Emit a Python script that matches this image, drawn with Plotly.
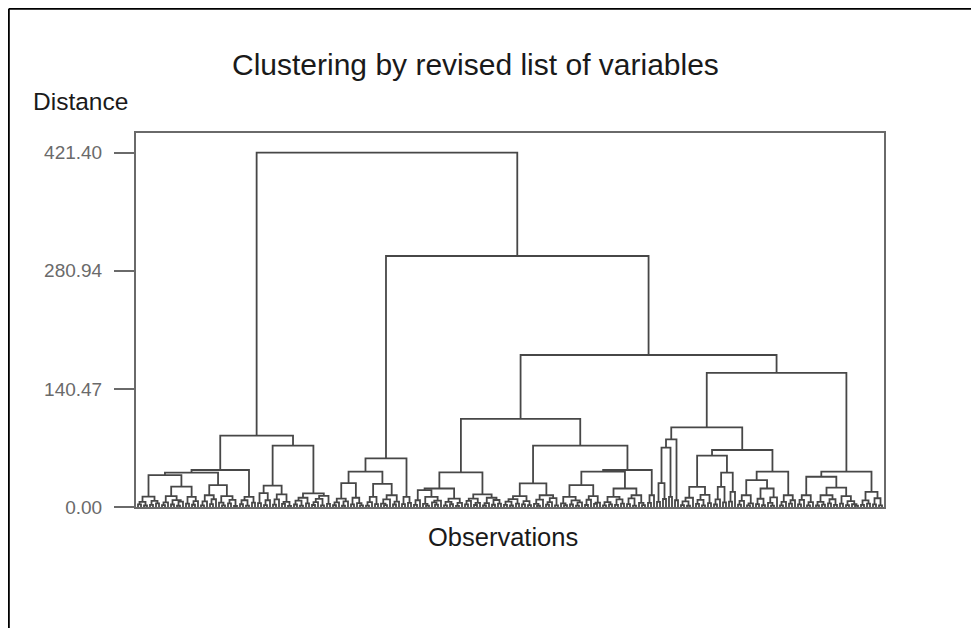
import plotly.graph_objects as go

# ---------------- text ----------------
title_text = "Clustering by revised list of variables"
y_label = "Distance"
x_label = "Observations"
tick_values = [0.0, 140.47, 280.94, 421.40]
tick_labels = ["0.00", "140.47", "280.94", "421.40"]

# ---------------- data: merge heights between adjacent observations ----------------
# (each value = distance at which observation i and i+1 first fall in the same cluster)
gaps_A1 = [3.1, 6.0, 1.8, 12.3, 2.5, 7.4, 4.2, 38.0,
           2.2, 5.5, 13.0, 3.0, 8.1, 1.5, 6.3, 24.2,
           4.0, 12.0, 2.7, 7.0, 40.8,
           1.9, 6.8, 14.0, 3.5, 9.2, 26.0,
           5.1, 2.0, 13.0, 4.4, 8.5, 1.2, 44.0,
           3.3, 8.0, 1.6, 12.0, 5.2]
join_A = 84.8
gaps_A2 = [4.5, 16.6, 2.3, 8.0, 25.4,
           2.8, 9.1, 15.0, 3.6, 6.2, 1.4, 73.0,
           3.0, 7.5, 1.7, 11.0, 4.3, 16.2, 2.4, 5.8, 9.6, 1.9, 13.2, 3.7]
join_root = 421.40
gaps_B1 = [2.1, 5.4, 10.0, 1.5, 6.6, 28.5,
           3.2, 11.0, 4.7, 1.9, 42.0,
           1.7, 5.9, 12.0, 3.4, 27.5,
           4.1, 2.2, 9.0, 14.0, 3.0, 6.4, 57.9,
           3.5, 12.0, 5.0]
join_B = 298.5
gaps_C1L = [2.6, 8.0, 20.0,
            3.8, 1.6, 12.0, 5.5, 2.9, 7.7, 22.0,
            2.0, 6.1, 3.3, 10.0, 1.4, 4.8, 41.2,
            3.1, 7.2, 10.0, 2.4, 5.0, 15.0,
            1.8, 4.6, 11.0, 2.7, 8.3, 3.9]
join_C1 = 104.7
gaps_C1R = [2.5, 6.3, 1.8, 9.4, 4.0, 13.0, 3.1, 7.0, 2.2, 28.0,
            3.6, 1.5, 8.8, 14.0, 2.9, 5.7, 10.5, 2.0, 73.0,
            4.3, 2.1, 12.0, 3.0, 7.9, 1.6, 5.4, 26.0,
            2.4, 8.6, 13.0, 3.7, 5.1, 42.0,
            1.9, 5.8, 3.2, 12.0, 2.6, 9.0, 4.1, 22.0,
            3.4, 10.2, 1.7, 14.0, 4.9, 2.3, 44.0,
            5.0, 14.0]
join_B2 = 180.8
gaps_D1 = [6.0, 28.5, 9.5, 70.6,
           12.0, 80.5,
           8.0, 94.8,
           2.3, 6.7, 1.5, 11.0, 24.0, 3.8, 8.4, 2.0, 14.5, 4.6, 61.0,
           3.0, 9.0, 24.0, 5.5, 41.0,
           6.5, 18.0, 67.8,
           2.8, 7.3, 14.0, 1.9, 4.4, 32.0,
           3.5, 9.8, 2.1, 22.0, 5.0, 1.6, 11.5, 42.0,
           2.0, 6.2, 14.0, 3.9, 8.0]
join_C2 = 159.4
gaps_D2 = [3.2, 8.5, 14.0, 2.0, 5.9, 36.0,
           1.8, 6.0, 2.9, 14.0, 4.4, 9.2, 2.5, 23.0,
           4.0, 13.0, 2.2, 7.1, 3.3, 1.5, 42.0,
           2.6, 7.8, 4.0, 18.0, 3.1, 10.4, 1.9]

gaps = (gaps_A1 + [join_A] + gaps_A2 + [join_root] + gaps_B1 + [join_B]
        + gaps_C1L + [join_C1] + gaps_C1R + [join_B2] + gaps_D1 + [join_C2] + gaps_D2)
n_leaves = len(gaps) + 1

# ---------------- agglomerate (leaf order fixed) ----------------
clusters = [(float(i), 0.0) for i in range(n_leaves)]
bounds = list(gaps)
xs, ys = [], []
while bounds:
    k = min(range(len(bounds)), key=lambda j: bounds[j])
    g = bounds[k]
    (xl, hl), (xr, hr) = clusters[k], clusters[k + 1]
    xs += [xl, xl, xr, xr, None]
    ys += [hl, g, g, hr, None]
    clusters[k:k + 2] = [((xl + xr) / 2.0, g)]
    del bounds[k]

fig = go.Figure(go.Scatter(x=xs, y=ys, mode="lines",
                           line=dict(color="#474747", width=1.8),
                           hoverinfo="skip"))

# page has an 8px body margin: figure origin sits at page (8, 8)
OFF = 8
W, H = 971, 620
L, R, T, B = 136 - OFF, 95, 133 - OFF, 121
pw, ph = W - L - R, H - T - B

def px_x(p):
    return (p - OFF - L) / pw

def px_y(p):
    return (H - B - (p - OFF)) / ph

fig.update_layout(
    width=W, height=H,
    margin=dict(l=L, r=R, t=T, b=B, pad=0),
    paper_bgcolor="white", plot_bgcolor="white",
    showlegend=False,
    font=dict(family="Liberation Sans, Arial, sans-serif"),
)
fig.update_xaxes(range=[-2/3, n_leaves - 1 + 2/3], showgrid=False, zeroline=False,
                 showticklabels=False, ticks="", showline=True, linecolor="#6a6a6a",
                 linewidth=2, mirror=True)
fig.update_yaxes(range=[0, 444.8], tickvals=tick_values, ticktext=tick_labels,
                 ticks="outside", ticklen=20, tickwidth=2, tickcolor="#6a6a6a",
                 showline=True, linecolor="#6a6a6a", linewidth=2, mirror=True,
                 showgrid=False, zeroline=False, ticklabelstandoff=8,
                 tickfont=dict(family="Liberation Sans, Arial, sans-serif", size=19, color="#6a6a6a"))

fig.add_annotation(text=title_text, xref="paper", yref="paper", x=px_x(475), y=px_y(64.5),
                   xanchor="center", yanchor="middle", showarrow=False,
                   font=dict(size=30, color="#1a1a1a"))
fig.add_annotation(text=y_label, xref="paper", yref="paper", x=px_x(31), y=px_y(101.5),
                   xanchor="left", yanchor="middle", showarrow=False,
                   font=dict(size=24.5, color="#1a1a1a"))
fig.add_annotation(text=x_label, xref="paper", yref="paper", x=px_x(502.5), y=px_y(537),
                   xanchor="center", yanchor="middle", showarrow=False,
                   font=dict(size=25.5, color="#1a1a1a"))

# outer frame (top and left edges)
fig.add_shape(type="line", xref="paper", yref="paper", x0=px_x(8.8), x1=px_x(990),
              y0=px_y(8.8), y1=px_y(8.8), line=dict(color="black", width=2))
fig.add_shape(type="line", xref="paper", yref="paper", x0=px_x(8.8), x1=px_x(8.8),
              y0=px_y(8.8), y1=px_y(640), line=dict(color="black", width=2))

fig.write_html("out.html", config={"displayModeBar": False})
